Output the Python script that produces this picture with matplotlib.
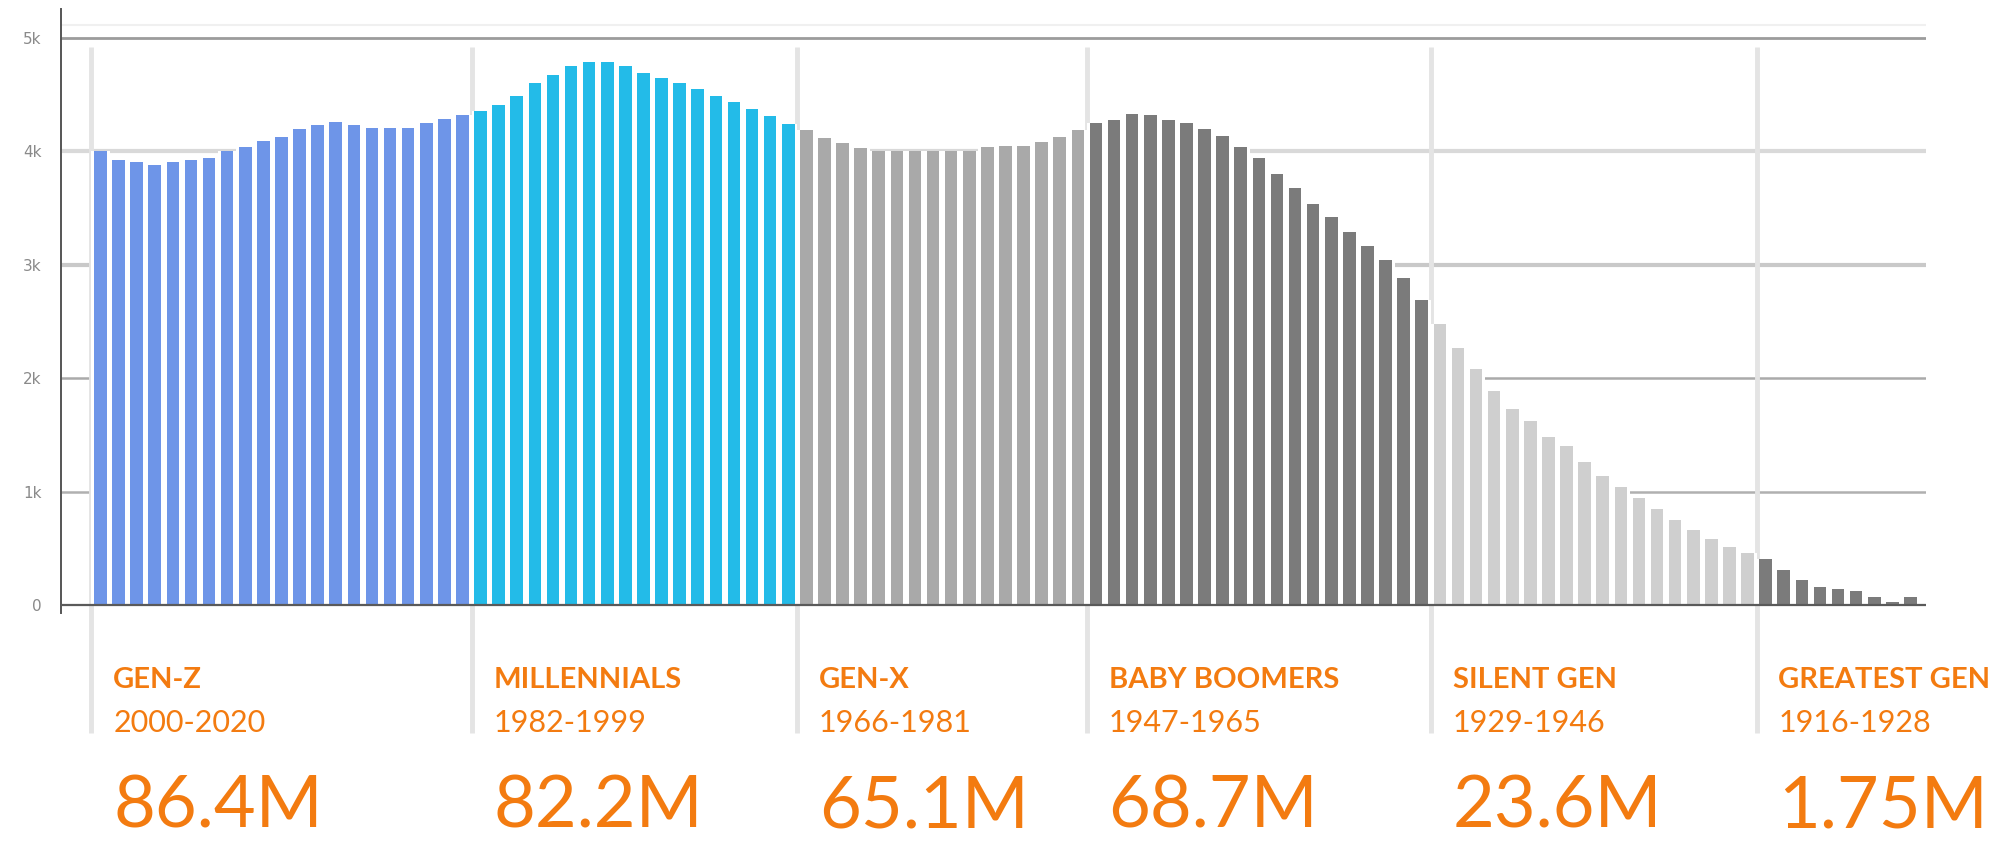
import matplotlib
matplotlib.use("Agg")
import matplotlib.pyplot as plt
import numpy as np

# population per single year of birth, in thousands (newest first)
gen_z = [4.00, 3.92, 3.91, 3.88, 3.91, 3.92, 3.94, 4.00, 4.04, 4.09, 4.13,
         4.20, 4.23, 4.26, 4.23, 4.21, 4.21, 4.21, 4.25, 4.29, 4.32]
millennials = [4.36, 4.41, 4.49, 4.60, 4.67, 4.75, 4.79, 4.79, 4.75, 4.69,
               4.65, 4.60, 4.55, 4.49, 4.44, 4.37, 4.31, 4.24]
gen_x = [4.19, 4.12, 4.07, 4.03, 4.00, 4.00, 4.00, 4.00, 4.00, 4.00, 4.04,
         4.05, 4.05, 4.08, 4.13, 4.19]
boomers = [4.25, 4.28, 4.33, 4.32, 4.28, 4.25, 4.20, 4.14, 4.04, 3.94, 3.80,
           3.68, 3.54, 3.42, 3.29, 3.17, 3.04, 2.88, 2.69]
silent = [2.48, 2.27, 2.08, 1.89, 1.73, 1.62, 1.48, 1.40, 1.26, 1.14, 1.04,
          0.94, 0.85, 0.75, 0.66, 0.58, 0.51, 0.46]
greatest = [0.41, 0.31, 0.22, 0.16, 0.14, 0.12, 0.07, 0.03, 0.07]

gen_names = ["GEN-Z", "MILLENNIALS", "GEN-X", "BABY BOOMERS", "SILENT GEN", "GREATEST GEN"]
gen_years = ["2000-2020", "1982-1999", "1966-1981", "1947-1965", "1929-1946", "1916-1928"]
gen_totals = ["86.4M", "82.2M", "65.1M", "68.7M", "23.6M", "1.75M"]

yticks = [0, 1, 2, 3, 4, 5]
ytick_labels = ["0", "1k", "2k", "3k", "4k", "5k"]

series = [gen_z, millennials, gen_x, boomers, silent, greatest]
colors = ["#6e95e8", "#23bbe8", "#a9a9a9", "#7b7b7b", "#cfcfcf", "#7b7b7b"]
orange = "#f37b10"

W, H = 2008, 842
fig = plt.figure(figsize=(W / 100, H / 100), dpi=100)

# pixel layout
x_left, x_right = 61, 1926
y_top, y_bot = 9, 613
ax = fig.add_axes([x_left / W, 1 - y_bot / H, (x_right - x_left) / W, (y_bot - y_top) / H])

px_per_k = 113.4
y0 = 605
ax.set_ylim((y0 - y_bot) / px_per_k, (y0 - y_top) / px_per_k)
ax.set_xlim(-2.18, 100.86)

def px2k(py):
    return (y0 - py) / px_per_k

# gridlines
ax.axhline(5, color="#9c9c9c", lw=2.0, zorder=1)
ax.axhline(4, color="#d9d9d9", lw=3.0, zorder=1)
ax.axhline(3, color="#c9c9c9", lw=3.0, zorder=1)
ax.axhline(2, color="#aaaaaa", lw=1.8, zorder=1)
ax.axhline(1, color="#b0b0b0", lw=1.8, zorder=1)
ax.axhline(px2k(25), color="#f0f0f0", lw=1.5, zorder=1)

start = 0
starts = []
for vals, col in zip(series, colors):
    x = np.arange(start, start + len(vals))
    ax.bar(x, vals, width=1.0, color="white", zorder=2)
    ax.bar(x, vals, width=0.7, color=col, zorder=3)
    starts.append(start)
    start += len(vals)

ax.axhline(0, color="#5a5a5a", lw=1.6, zorder=4)

# generation separators
for s in starts:
    ax.vlines(s - 0.5, px2k(733), px2k(47), color="#e4e4e4", lw=3.5,
              zorder=1.5, clip_on=False)

# labels under each generation
for s, name, yrs, tot in zip(starts, gen_names, gen_years, gen_totals):
    tx = s - 0.5 + 1.2
    ax.text(tx, px2k(688), name, color=orange, fontsize=21, fontweight="bold",
            family="Lato", va="baseline", ha="left", clip_on=False)
    ax.text(tx, px2k(732), yrs, color=orange, fontsize=22, fontweight="normal",
            family="Lato", va="baseline", ha="left", clip_on=False)
    ax.text(tx, px2k(827), tot, color=orange, fontsize=52,
            family="Lato", va="baseline", ha="left", clip_on=False)

ax.set_yticks(yticks)
ax.set_yticklabels(ytick_labels)
ax.tick_params(axis="y", length=0, pad=14, labelsize=11, labelcolor="#8a8a8a")
ax.set_xticks([])
for side in ["top", "right", "bottom"]:
    ax.spines[side].set_visible(False)
ax.spines["left"].set_color("#555555")
ax.spines["left"].set_linewidth(1.4)
ax.patch.set_alpha(0)

fig.savefig("out.png", dpi=100)
